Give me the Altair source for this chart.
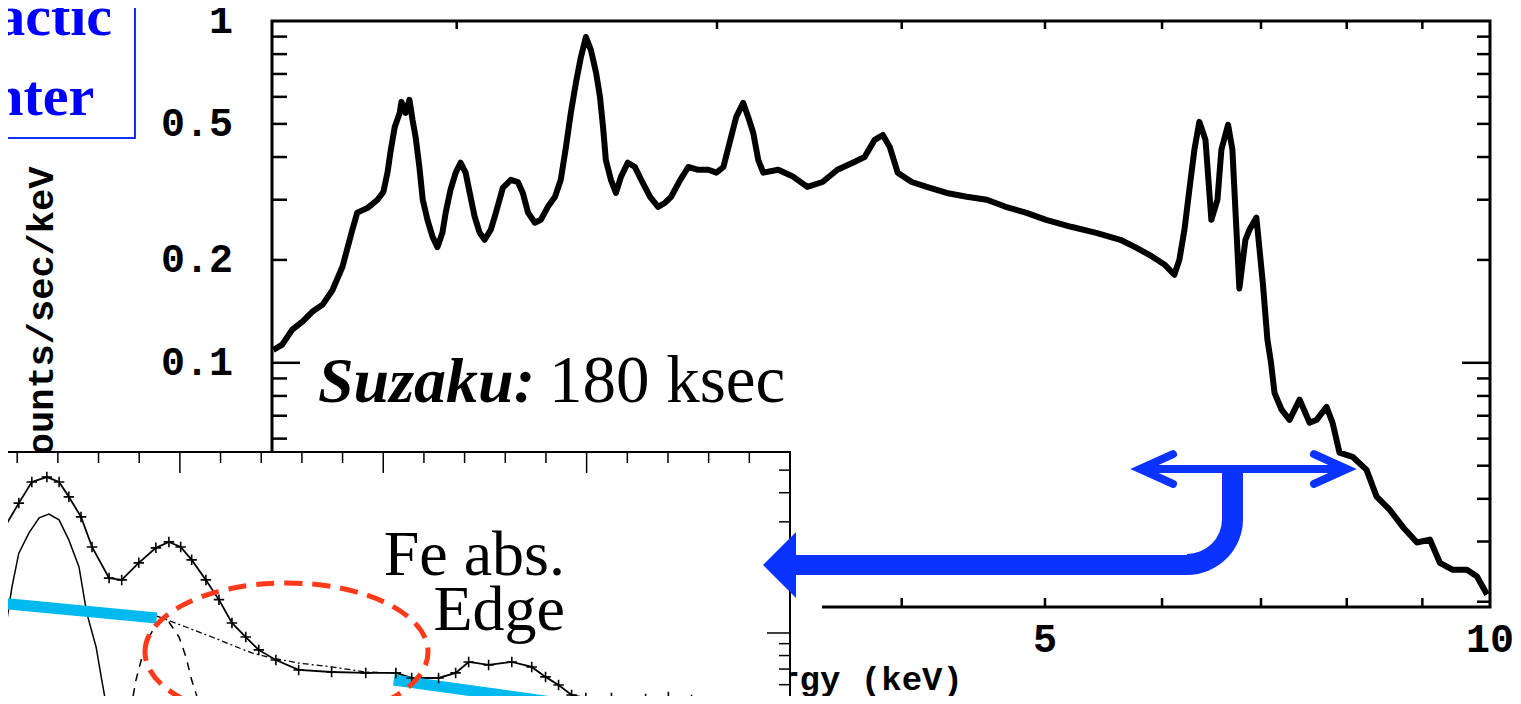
import math
import altair as alt
import pandas as pd

# ---------------- main spectrum (Suzaku, Galactic Center) ----------------
spec_E = [1.503, 1.524, 1.548, 1.573, 1.597, 1.623, 1.648, 1.674, 1.700, 1.713,
          1.741, 1.768, 1.784, 1.796, 1.804, 1.816, 1.830, 1.835, 1.847, 1.858,
          1.867, 1.876, 1.887, 1.897, 1.911, 1.926, 1.941, 1.956, 1.966, 1.981,
          1.997, 2.012, 2.028, 2.041, 2.057, 2.073, 2.089, 2.109, 2.126, 2.149,
          2.176, 2.200, 2.217, 2.235, 2.259, 2.280, 2.305, 2.331, 2.352, 2.371,
          2.389, 2.408, 2.427, 2.446, 2.465, 2.485, 2.500, 2.512, 2.523, 2.543,
          2.563, 2.583, 2.611, 2.640, 2.666, 2.703, 2.737, 2.767, 2.793, 2.833,
          2.869, 2.914, 2.960, 2.997, 3.030, 3.063, 3.091, 3.125, 3.149, 3.174,
          3.199, 3.224, 3.300, 3.379, 3.453, 3.536, 3.619, 3.706, 3.775, 3.835,
          3.884, 3.926, 3.975, 4.063, 4.159, 4.290, 4.427, 4.567, 4.703, 4.853,
          5.009, 5.208, 5.416, 5.622, 5.754, 5.882, 6.022, 6.116, 6.164, 6.213,
          6.261, 6.310, 6.359, 6.420, 6.479, 6.541, 6.581, 6.650, 6.695, 6.768,
          6.832, 6.875, 6.950, 7.020, 7.070, 7.110, 7.149, 7.228, 7.318, 7.434,
          7.551, 7.634, 7.752, 7.825, 7.910, 8.073, 8.251, 8.381, 8.552, 8.730,
          8.925, 9.106, 9.249, 9.438, 9.647, 9.799, 9.954]
spec_C = [0.109, 0.113, 0.125, 0.132, 0.141, 0.148, 0.163, 0.191, 0.245, 0.275,
          0.284, 0.300, 0.316, 0.362, 0.414, 0.490, 0.538, 0.580, 0.538, 0.588,
          0.514, 0.458, 0.374, 0.300, 0.262, 0.234, 0.218, 0.240, 0.275, 0.321,
          0.360, 0.385, 0.360, 0.314, 0.267, 0.240, 0.229, 0.245, 0.275, 0.325,
          0.343, 0.338, 0.314, 0.275, 0.257, 0.262, 0.286, 0.306, 0.343, 0.428,
          0.538, 0.659, 0.785, 0.898, 0.822, 0.705, 0.600, 0.490, 0.392, 0.343,
          0.314, 0.350, 0.385, 0.374, 0.343, 0.306, 0.286, 0.294, 0.306, 0.343,
          0.374, 0.367, 0.367, 0.360, 0.374, 0.449, 0.524, 0.576, 0.524, 0.471,
          0.392, 0.360, 0.367, 0.350, 0.327, 0.338, 0.367, 0.385, 0.400, 0.449,
          0.464, 0.428, 0.360, 0.338, 0.327, 0.314, 0.306, 0.300, 0.286, 0.275,
          0.262, 0.250, 0.240, 0.229, 0.218, 0.207, 0.194, 0.181, 0.200, 0.245,
          0.321, 0.420, 0.507, 0.449, 0.262, 0.300, 0.420, 0.497, 0.420, 0.165,
          0.229, 0.245, 0.266, 0.171, 0.117, 0.100, 0.0817, 0.0729, 0.0681, 0.0780,
          0.0668, 0.0681, 0.0743, 0.0668, 0.0546, 0.0531, 0.0486, 0.0406, 0.0372, 0.0331,
          0.0298, 0.0304, 0.0260, 0.0248, 0.0248, 0.0237, 0.0210]

main_x_ticks = [2, 3, 4, 5, 6, 7, 8, 9]
main_y_minor = [0.02, 0.03, 0.04, 0.05, 0.06, 0.07, 0.08, 0.09,
                0.2, 0.3, 0.4, 0.5, 0.6, 0.7, 0.8, 0.9]
main_y_major = [0.1]
main_y_label_vals = [1.0, 0.5, 0.2, 0.1]
main_y_label_text = ["1", "0.5", "0.2", "0.1"]
main_x_label_vals = [5, 10]
main_x_label_text = ["5", "10"]

# ---------------- inset: Fe K band ----------------
inset_E = [6.555, 6.604, 6.636, 6.673, 6.703, 6.727, 6.757, 6.784, 6.826, 6.857,
           6.899, 6.941, 6.973, 7.002, 7.029, 7.064, 7.096, 7.128, 7.162, 7.194,
           7.236, 7.292, 7.373, 7.457, 7.531, 7.570, 7.636, 7.678, 7.710, 7.759,
           7.816, 7.865, 7.899, 7.931, 7.963, 7.998, 8.061, 8.145, 8.201, 8.258, 8.283]
inset_C = [0.258, 0.361, 0.445, 0.467, 0.445, 0.384, 0.315, 0.234, 0.172, 0.169,
           0.200, 0.232, 0.246, 0.234, 0.206, 0.169, 0.139, 0.1104, 0.0961, 0.0846,
           0.0766, 0.0694, 0.0680, 0.0674, 0.0674, 0.0641, 0.0641, 0.0674, 0.0751, 0.0729,
           0.0751, 0.0715, 0.0648, 0.0598, 0.0542, 0.0526, 0.0526, 0.0521, 0.0531, 0.0516, 0.0501]
fe25_E = [6.555, 6.572, 6.587, 6.604, 6.629, 6.654, 6.678, 6.703, 6.727, 6.752,
          6.771, 6.794, 6.808, 6.818, 6.830]
fe25_C = [0.0789, 0.1061, 0.157, 0.220, 0.269, 0.312, 0.324, 0.306, 0.251, 0.192,
          0.122, 0.0871, 0.0628, 0.0501, 0.040]
fe26_E = [6.875, 6.882, 6.892, 6.907, 6.924, 6.941, 6.956, 6.973, 6.998, 7.015,
          7.029, 7.047, 7.055]
fe26_C = [0.040, 0.0501, 0.0628, 0.0789, 0.0961, 0.1082, 0.1137, 0.1115, 0.0961, 0.0789,
          0.0628, 0.0501, 0.044]
cont_E = [6.943, 6.956, 7.015, 7.079, 7.128, 7.177, 7.226, 7.292, 7.373, 7.457, 7.514]
cont_C = [0.118, 0.116, 0.1061, 0.0961, 0.0888, 0.0821, 0.0781, 0.0743, 0.0715, 0.0680, 0.0674]
edge_lo_E = [6.555, 6.943]
edge_lo_C = [0.1345, 0.116]
edge_hi_E = [7.526, 7.968]
edge_hi_C = [0.0628, 0.0491]
inset_x_minor = [6.6, 6.7, 6.8, 6.9, 7.1, 7.2, 7.3, 7.4, 7.6, 7.7, 7.8, 7.9, 8.1, 8.2, 8.3, 8.4]
inset_x_major = [7.0, 7.5, 8.0]
inset_y_minor = [0.05, 0.06, 0.07, 0.08, 0.09, 0.2, 0.3, 0.4, 0.5]
inset_y_major = [0.1]

BLUE = "#0b33ff"
CYAN = "#00b9ee"
RED = "#ff3a1a"
MONO = "Liberation Mono"
SERIF = "Liberation Serif"

MX = alt.Scale(type="log", domain=[1.5, 10], range=[264, 1482], nice=False)
MY = alt.Scale(type="log", domain=[0.0193, 1], range=[599, 13], nice=False)
IX = alt.Scale(type="linear", domain=[6.5, 8.5], range=[-31.5, 782], nice=False, zero=False)
IY = alt.Scale(type="log", domain=[0.03, 0.6], range=[746.8, 443.7], nice=False)


def one():
    return pd.DataFrame({"k": [0]})


def df(E=None, C=None, t=None):
    d = {}
    if E is not None:
        d["E"] = E
    if C is not None:
        d["C"] = C
    if t is not None:
        d["t"] = t
    return pd.DataFrame(d)


def X(s):
    return alt.X("E:Q", scale=s, axis=None)


def Y(s):
    return alt.Y("C:Q", scale=s, axis=None)


layers = []

# main frame
layers.append(alt.Chart(one()).mark_rect(filled=False, stroke="black", strokeWidth=3).encode(
    x=alt.value(264), x2=alt.value(1482), y=alt.value(13), y2=alt.value(599)))
# main ticks
layers.append(alt.Chart(df(C=main_y_minor)).mark_rule(color="black", strokeWidth=2.5).encode(
    y=Y(MY), x=alt.value(264), x2=alt.value(279)))
layers.append(alt.Chart(df(C=main_y_major)).mark_rule(color="black", strokeWidth=2.5).encode(
    y=Y(MY), x=alt.value(264), x2=alt.value(292)))
layers.append(alt.Chart(df(C=main_y_minor)).mark_rule(color="black", strokeWidth=2.5).encode(
    y=Y(MY), x=alt.value(1482), x2=alt.value(1469)))
layers.append(alt.Chart(df(C=main_y_major)).mark_rule(color="black", strokeWidth=2.5).encode(
    y=Y(MY), x=alt.value(1482), x2=alt.value(1454)))
layers.append(alt.Chart(df(E=main_x_ticks)).mark_rule(color="black", strokeWidth=2.5).encode(
    x=X(MX), y=alt.value(599), y2=alt.value(590)))
layers.append(alt.Chart(df(E=main_x_ticks)).mark_rule(color="black", strokeWidth=2.5).encode(
    x=X(MX), y=alt.value(13), y2=alt.value(21)))
# main tick labels
layers.append(alt.Chart(df(C=main_y_label_vals, t=main_y_label_text)).mark_text(
    align="right", baseline="middle", font=MONO, fontWeight="bold", fontSize=40, color="black").encode(
    y=Y(MY), x=alt.value(225), text="t:N"))
layers.append(alt.Chart(df(E=main_x_label_vals, t=main_x_label_text)).mark_text(
    align="center", baseline="middle", font=MONO, fontWeight="bold", fontSize=40, color="black").encode(
    x=X(MX), y=alt.value(632), text="t:N"))
# axis titles
layers.append(alt.Chart(one()).mark_text(
    text="Counts/sec/keV", angle=270, align="center", baseline="alphabetic",
    font=MONO, fontWeight="bold", fontSize=37, color="black").encode(
    x=alt.value(45), y=alt.value(314)))
layers.append(alt.Chart(one()).mark_text(
    text="Energy (keV)", align="left", baseline="alphabetic",
    font=MONO, fontWeight="bold", fontSize=34, color="black").encode(
    x=alt.value(710), y=alt.value(682)))
# spectrum
layers.append(alt.Chart(df(E=spec_E, C=spec_C)).mark_line(
    color="black", strokeWidth=6, strokeJoin="round").encode(x=X(MX), y=Y(MY)))
# Suzaku label
layers.append(alt.Chart(one()).mark_text(
    text="Suzaku:", align="left", baseline="alphabetic", font=SERIF, fontStyle="italic",
    fontWeight="bold", fontSize=64, color="black").encode(x=alt.value(310), y=alt.value(394)))
layers.append(alt.Chart(one()).mark_text(
    text="180 ksec", align="left", baseline="alphabetic", font=SERIF,
    fontSize=67, color="black").encode(x=alt.value(541), y=alt.value(394)))
# Galactic Center box
layers.append(alt.Chart(one()).mark_rect(fill="white", stroke=BLUE, strokeWidth=2).encode(
    x=alt.value(-30), x2=alt.value(127), y=alt.value(-30), y2=alt.value(130)))
layers.append(alt.Chart(one()).mark_text(
    text="Galactic", align="center", baseline="alphabetic", font=SERIF, fontWeight="bold",
    fontSize=58, color="#0000ff").encode(x=alt.value(1), y=alt.value(27)))
layers.append(alt.Chart(one()).mark_text(
    text="Center", align="center", baseline="alphabetic", font=SERIF, fontWeight="bold",
    fontSize=58, color="#0000ff").encode(x=alt.value(1), y=alt.value(107)))
# bottom thin decoration line
layers.append(alt.Chart(one()).mark_rule(color="#8fa0e6", strokeWidth=1.5).encode(
    x=alt.value(910), x2=alt.value(1513), y=alt.value(695)))

# ---------------- inset ----------------
layers.append(alt.Chart(one()).mark_rect(fill="white").encode(
    x=alt.value(-20), x2=alt.value(814), y=alt.value(444), y2=alt.value(612)))
layers.append(alt.Chart(one()).mark_rect(fill="white", stroke="black", strokeWidth=2).encode(
    x=alt.value(-20), x2=alt.value(782), y=alt.value(444), y2=alt.value(720)))
layers.append(alt.Chart(df(E=inset_x_minor)).mark_rule(color="black", strokeWidth=1.5).encode(
    x=X(IX), y=alt.value(444), y2=alt.value(455)))
layers.append(alt.Chart(df(E=inset_x_major)).mark_rule(color="black", strokeWidth=1.5).encode(
    x=X(IX), y=alt.value(444), y2=alt.value(465)))
layers.append(alt.Chart(df(C=inset_y_minor)).mark_rule(color="black", strokeWidth=1.5).encode(
    y=Y(IY), x=alt.value(782), x2=alt.value(771)))
layers.append(alt.Chart(df(C=inset_y_major)).mark_rule(color="black", strokeWidth=1.5).encode(
    y=Y(IY), x=alt.value(782), x2=alt.value(759)))
# model components
layers.append(alt.Chart(df(E=fe25_E, C=fe25_C)).mark_line(
    color="black", strokeWidth=1.5).encode(x=X(IX), y=Y(IY)))
layers.append(alt.Chart(df(E=fe26_E, C=fe26_C)).mark_line(
    color="black", strokeWidth=1.5, strokeDash=[8, 7]).encode(x=X(IX), y=Y(IY)))
layers.append(alt.Chart(df(E=cont_E, C=cont_C)).mark_line(
    color="black", strokeWidth=1.3, strokeDash=[6, 3, 2, 3]).encode(x=X(IX), y=Y(IY)))
layers.append(alt.Chart(df(E=inset_E, C=inset_C)).mark_line(
    color="black", strokeWidth=1.8).encode(x=X(IX), y=Y(IY)))
# continuum (cyan) with the edge drop
layers.append(alt.Chart(df(E=edge_lo_E, C=edge_lo_C)).mark_line(
    color=CYAN, strokeWidth=11).encode(x=X(IX), y=Y(IY)))
layers.append(alt.Chart(df(E=edge_hi_E, C=edge_hi_C)).mark_line(
    color=CYAN, strokeWidth=11).encode(x=X(IX), y=Y(IY)))
# data crosses
layers.append(alt.Chart(df(E=inset_E, C=inset_C)).mark_point(
    shape="M-1,0L1,0M0,-1L0,1", size=110, filled=False, opacity=1, color="black",
    strokeWidth=1.6).encode(x=X(IX), y=Y(IY)))
# red dashed ellipse
layers.append(alt.Chart(one()).mark_point(
    shape="M-1,0A1,0.488,0,1,1,1,0A1,0.488,0,1,1,-1,0Z", size=80089, filled=False,
    opacity=1, color=RED, strokeWidth=5, strokeDash=[18, 10]).encode(
    x=alt.value(278.5), y=alt.value(644)))
layers.append(alt.Chart(one()).mark_text(
    text="Fe abs.", align="right", baseline="alphabetic", font=SERIF, fontSize=64,
    color="black").encode(x=alt.value(557), y=alt.value(567)))
layers.append(alt.Chart(one()).mark_text(
    text="Edge", align="right", baseline="alphabetic", font=SERIF, fontSize=64,
    color="black").encode(x=alt.value(557), y=alt.value(622)))

# ---------------- blue arrows ----------------
layers.append(alt.Chart(one()).mark_rule(color=BLUE, strokeWidth=8).encode(
    x=alt.value(1136), x2=alt.value(1334), y=alt.value(461)))
layers.append(alt.Chart(one()).mark_point(
    shape="M1,-0.9L-1,0L1,0.9", size=1089, filled=False, opacity=1, color=BLUE,
    strokeWidth=8, strokeCap="round", strokeJoin="miter").encode(
    x=alt.value(1148.5), y=alt.value(461)))
layers.append(alt.Chart(one()).mark_point(
    shape="M-1,-0.9L1,0L-1,0.9", size=1089, filled=False, opacity=1, color=BLUE,
    strokeWidth=8, strokeCap="round", strokeJoin="miter").encode(
    x=alt.value(1322.5), y=alt.value(461)))
layers.append(alt.Chart(one()).mark_rect(color=BLUE).encode(
    x=alt.value(1214), x2=alt.value(1235), y=alt.value(458), y2=alt.value(511.5)))
layers.append(alt.Chart(one()).mark_arc(innerRadius=35, outerRadius=56, color=BLUE).encode(
    x=alt.value(1179), y=alt.value(511), theta=alt.value(math.pi / 2), theta2=alt.value(math.pi)))
layers.append(alt.Chart(one()).mark_rect(color=BLUE).encode(
    x=alt.value(786), x2=alt.value(1179.5), y=alt.value(547), y2=alt.value(567)))
layers.append(alt.Chart(one()).mark_point(
    shape="M-1,0L0,-1L0,1Z", size=4356, filled=True, opacity=1, color=BLUE).encode(
    x=alt.value(788), y=alt.value(557)))

chart = alt.layer(*layers).resolve_scale(x="independent", y="independent").properties(
    width=1505, height=688, padding=0, autosize=alt.AutoSizeParams(type="none")
).configure_view(stroke=None)

chart.save("out.html", embed_options={"renderer": "svg", "actions": False})
